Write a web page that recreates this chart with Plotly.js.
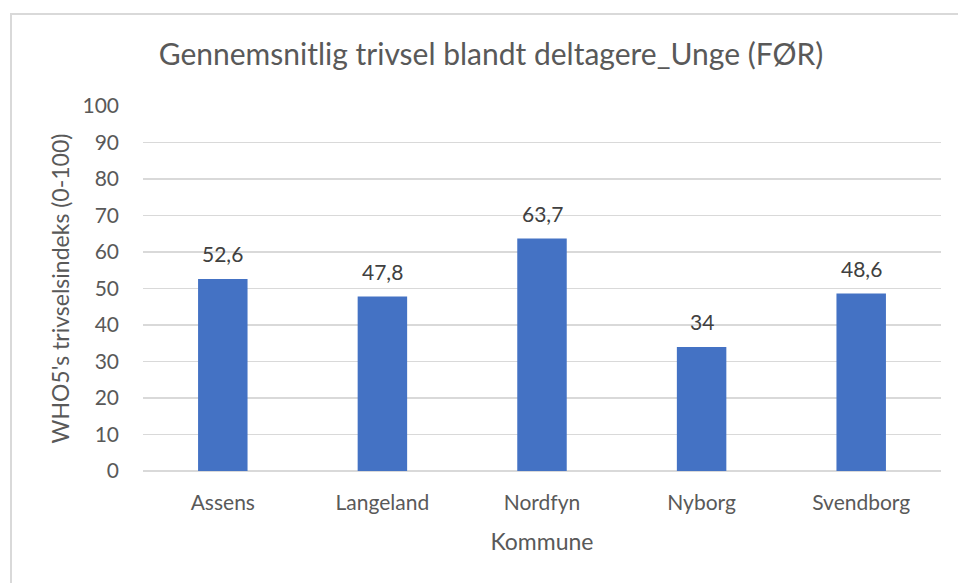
<!DOCTYPE html>
<html>
<head>
<meta charset="utf-8">
<script src="https://cdn.plot.ly/plotly-3.0.1.min.js"></script>
<style>
  html, body { margin: 0; padding: 0; background: #ffffff; }
  #wrap { position: relative; width: 958px; height: 583px; overflow: hidden; }
  #chart { width: 958px; height: 583px; }
  #frame { position: absolute; left: 10px; top: 13px; width: 960px; height: 600px;
           border-top: 2px solid #d9d9d9; border-left: 2px solid #d9d9d9; pointer-events: none; }
</style>
</head>
<body>
<div id="wrap">
  <div id="chart"></div>
  <div id="frame"></div>
</div>
<script>
const categories = ["Assens", "Langeland", "Nordfyn", "Nyborg", "Svendborg"];
const values = [52.6, 47.8, 63.7, 34, 48.6];
const yTicks = [0, 10, 20, 30, 40, 50, 60, 70, 80, 90, 100];

const FONT = "Lato, 'Open Sans', sans-serif";
const labels = values.map(v => String(v).replace('.', ','));

const trace = {
  type: 'bar',
  x: categories,
  y: values,
  marker: { color: '#4472C4', line: { color: '#ffffff', width: 0 } },
  width: 0.31,
  hoverinfo: 'none'
};

const annotations = categories.map((c, i) => ({
  x: c,
  y: values[i],
  xref: 'x',
  yref: 'y',
  text: labels[i],
  showarrow: false,
  xanchor: 'center',
  yanchor: 'bottom',
  yshift: 11,
  font: { family: FONT, size: 21, color: '#404040' }
}));

const layout = {
  width: 958,
  height: 583,
  margin: { l: 143, r: 17, t: 106, b: 112 },
  paper_bgcolor: '#ffffff',
  plot_bgcolor: '#ffffff',
  showlegend: false,
  font: { family: FONT, color: '#595959' },
  annotations: annotations,
  title: {
    text: 'Gennemsnitlig trivsel blandt deltagere_Unge (FØR)',
    font: { family: FONT, size: 30, color: '#595959' },
    xref: 'container', x: 491 / 958, xanchor: 'center',
    yref: 'container', y: 1 - 54 / 583, yanchor: 'middle'
  },
  xaxis: {
    type: 'category',
    range: [-0.5, 4.5],
    showgrid: false,
    showline: false,
    zeroline: false,
    ticks: '',
    ticklabelstandoff: 17,
    tickfont: { family: FONT, size: 21, color: '#595959' },
    title: { text: 'Kommune', font: { family: FONT, size: 23, color: '#595959' }, standoff: 20 }
  },
  yaxis: {
    range: [0, 100],
    tickvals: yTicks,
    ticktext: yTicks.map(String),
    showgrid: true,
    gridcolor: '#d9d9d9',
    gridwidth: 1.5,
    zeroline: true,
    zerolinecolor: '#d9d9d9',
    zerolinewidth: 1.5,
    showline: false,
    ticks: '',
    ticklabelstandoff: 23,
    tickfont: { family: FONT, size: 21, color: '#595959' },
    title: { text: "WHO5's trivselsindeks (0-100)", font: { family: FONT, size: 23, color: '#595959' }, standoff: 6 }
  }
};

Plotly.newPlot('chart', [trace], layout, { displayModeBar: false, staticPlot: true });
</script>
</body>
</html>
